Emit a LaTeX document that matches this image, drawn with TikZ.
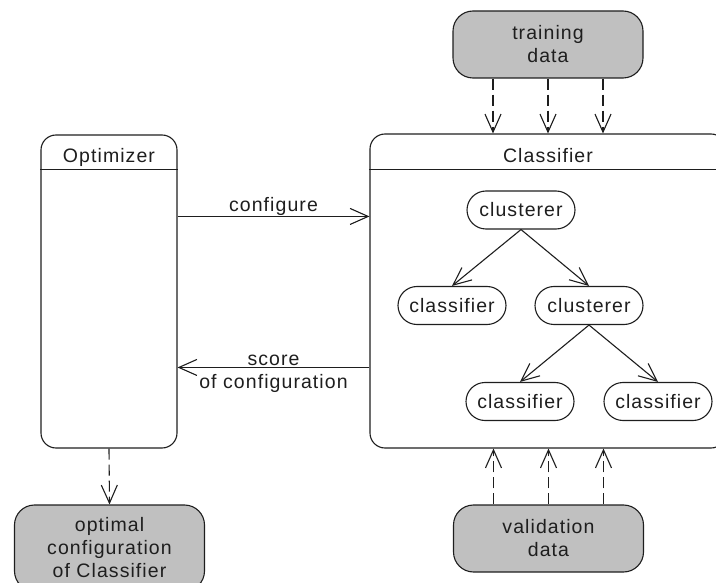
\documentclass[tikz,border=0pt]{standalone}
\usepackage{fontspec}
\setmainfont{Liberation Sans}[LetterSpace=5.5]
\usetikzlibrary{arrows.meta,calc}
\definecolor{datagray}{HTML}{C0C0C0}
\definecolor{ink}{HTML}{1E1E1E}
\begin{document}
\begin{tikzpicture}[x=1pt,y=-1pt,
  every node/.style={font=\fontsize{19.5}{23}\selectfont, text=ink},
  frame/.style={draw=ink, line width=1.1pt, rounded corners=15pt},
  datanode/.style={draw=ink, fill=datagray, line width=1.1pt, rounded corners=20pt,
    align=center, minimum width=190pt, minimum height=67pt},
  pill/.style={draw=ink, line width=1.1pt, rounded corners=19pt,
    minimum width=108pt, minimum height=38pt, inner sep=0pt},
  flow/.style={draw=ink, line width=1.1pt, -{Straight Barb[length=18pt,width=16pt]}},
  feed/.style={flow, dash pattern=on 11pt off 5pt},
  rule/.style={draw=ink, line width=1.1pt}]
\useasboundingbox (0,0) rectangle (716,583);

% composite states
\node[frame, minimum width=136pt, minimum height=313pt] (opt) at (109,291.5) {};
\node[frame, minimum width=356pt, minimum height=314pt] (cls) at (548,291) {};
\draw[rule] ($(opt.north west)+(0,35)$) -- ($(opt.north east)+(0,35)$);
\draw[rule] ($(cls.north west)+(0,36)$) -- ($(cls.north east)+(0,36)$);
\node[anchor=base] (optT) at ($(opt.north)+(0,28.5)$) {Optimizer};
\node[anchor=base] (clsT) at ($(cls.north)+(0,29)$) {Classifier};

% data sources and result
\node[datanode] (td) at (548,44.5) {training\\data};
\node[datanode] (vd) at (548.5,538.5) {validation\\data};
\node[datanode, minimum height=86pt] (oc) at (109.5,548) {optimal\\configuration\\of Classifier};

% classifier tree
\node[pill] (c1) at (521,210) {clusterer};
\node[pill] (l1) at (452,305.5) {classifier};
\node[pill] (c2) at (589,305.5) {clusterer};
\node[pill] (l2) at (520,401.5) {classifier};
\node[pill] (l3) at (658,401.5) {classifier};
\draw[flow] (c1.south) -- (l1.north);
\draw[flow] (c1.south) -- (c2.north);
\draw[flow] (c2.south) -- (l2.north);
\draw[flow] (c2.south) -- (l3.north);

% optimizer <-> classifier
\coordinate (cfg) at ($(opt.north east)+(0,82)$);
\coordinate (scr) at ($(opt.north east)+(0,233)$);
\draw[flow] (cfg) -- (cfg -| cls.west)
  node[midway, anchor=base, yshift=5pt] (cfgL) {configure};
\draw[flow] (scr -| cls.west) -- (scr)
  node[midway, align=center, yshift=-6pt] (scrL) {score\\of configuration};

% data feeds
\foreach \dx [count=\i] in {-55,0,55} {
  \coordinate (t\i) at ([xshift=\dx pt]td.south);
  \coordinate (v\i) at ([xshift=\dx pt]vd.north);
  \draw[feed] (t\i) -- (t\i |- cls.north);
  \draw[feed] (v\i) -- (v\i |- cls.south);
}
\draw[feed] (opt.south) -- (oc.north);
\end{tikzpicture}
\end{document}
